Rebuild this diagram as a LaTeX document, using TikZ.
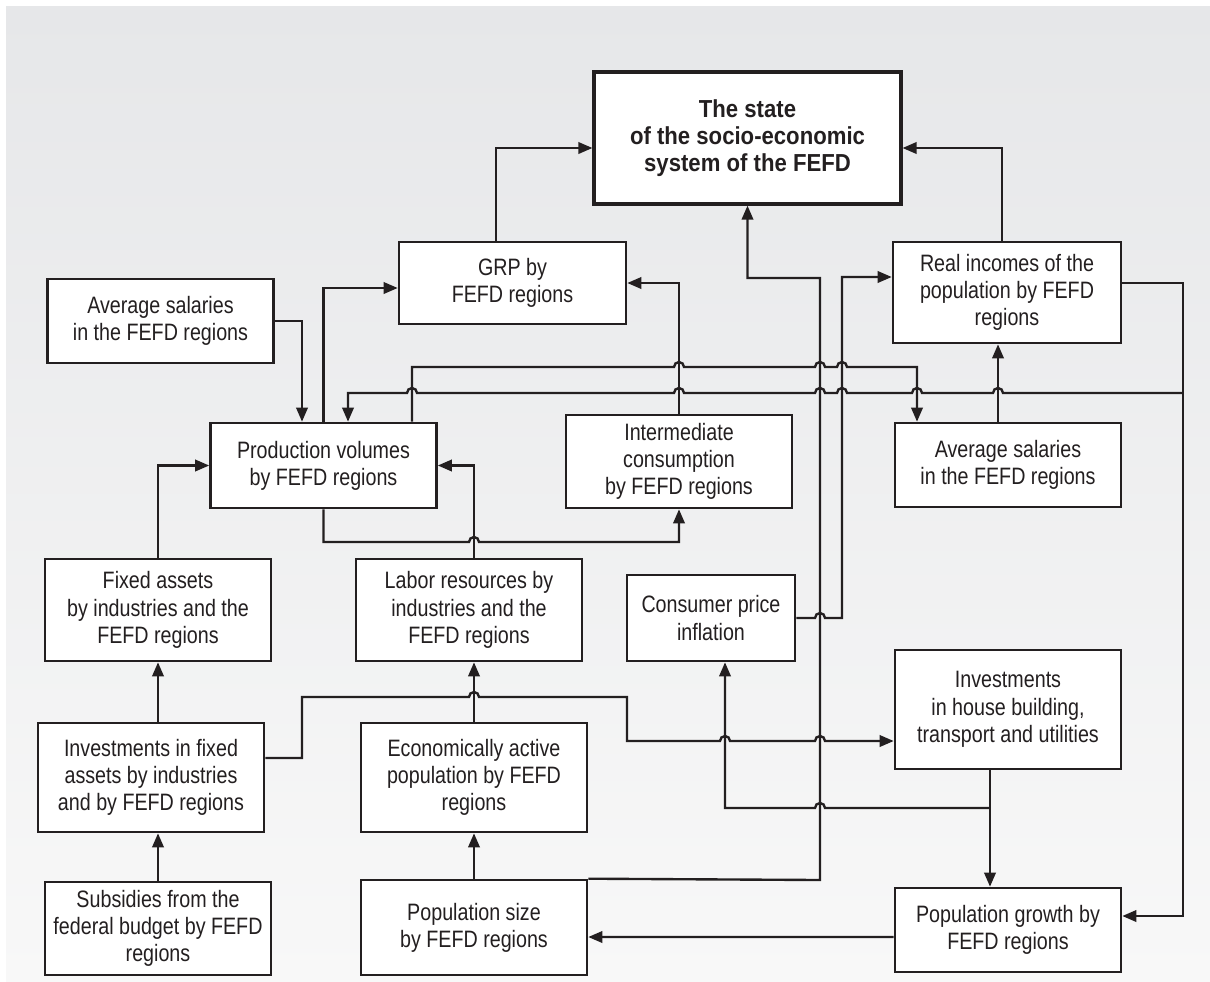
\documentclass[tikz,border=0pt]{standalone}
\usepackage{fontspec}
\setmainfont{Liberation Sans}[FakeStretch=0.83]
\newfontfamily\titlefont{Liberation Sans}[FakeStretch=0.9]
\usetikzlibrary{arrows.meta,calc}

\definecolor{bgtop}{HTML}{E6E7E9}
\definecolor{bgbot}{HTML}{F8F8F8}
\definecolor{ink}{HTML}{231F20}

% bump over a vertical line (going right / going left)
\newcommand{\hopR}[2]{-- (#1-5,#2) arc[start angle=180,end angle=0,radius=0.1cm]}
\newcommand{\hopL}[2]{-- (#1+5,#2) arc[start angle=0,end angle=180,radius=0.1cm]}

\begin{document}
\begin{tikzpicture}[x=0.02cm,y=-0.02cm,>={Triangle[length=8pt,width=6.5pt]},
  box/.style={draw=ink, fill=white, line width=1.5pt, align=center, inner sep=0pt,
    text=ink, font=\fontsize{13.5pt}{15.5pt}\selectfont, minimum width=4.52cm},
  conn/.style={draw=ink, line width=1.35pt, ->}]
\useasboundingbox (0,0) rectangle (1210,981);
\shade[top color=bgtop, bottom color=bgbot] (6,6) rectangle (1210,981);

\node[box, minimum width=6.14cm, minimum height=2.64cm, line width=1.8pt,
  font=\titlefont\bfseries\fontsize{14pt}{15.5pt}\selectfont] (state) at (747.5,138)
  {The state\\of the socio-economic\\system of the FEFD};
\node[box, minimum width=4.54cm, minimum height=1.64cm] (grp) at (512.5,283) {GRP by\\FEFD regions};
\node[box, minimum width=4.56cm, minimum height=2.02cm] (real) at (1007,292.5) {Real incomes of the\\population by FEFD\\regions};
\node[box, minimum height=1.68cm] (avgl) at (160.5,321) {Average salaries\\in the FEFD regions};
\node[box, minimum height=1.7cm] (prod) at (323.5,465.5) {Production volumes\\by FEFD regions};
\node[box, minimum height=1.86cm] (inter) at (679,461.5) {Intermediate\\consumption\\by FEFD regions};
\node[box, minimum height=1.68cm] (avgr) at (1008,465) {Average salaries\\in the FEFD regions};
\node[box, minimum height=2.04cm] (fixed) at (158,610) {Fixed assets\\by industries and the\\FEFD regions};
\node[box, minimum height=2.04cm] (labor) at (469,610) {Labor resources by\\industries and the\\FEFD regions};
\node[box, minimum width=3.36cm, minimum height=1.72cm] (cpi) at (711,618) {Consumer price\\inflation};
\node[box, minimum height=2.38cm] (invh) at (1008,709.5) {Investments\\in house building,\\transport and utilities};
\node[box, minimum height=2.18cm] (invf) at (151,777.5) {Investments in fixed\\assets by industries\\and by FEFD regions};
\node[box, minimum height=2.18cm] (econ) at (474,777.5) {Economically active\\population by FEFD\\regions};
\node[box, minimum height=1.86cm] (subs) at (158,928.5) {Subsidies from the\\federal budget by FEFD\\regions};
\node[box, minimum height=1.9cm] (popsize) at (474,927.5) {Population size\\by FEFD regions};
\node[box, minimum height=1.68cm] (popgr) at (1008,930) {Population growth by\\FEFD regions};

\coordinate (jR) at (1183,393);
\coordinate (jH) at (990,808);

% into the state box
\draw[conn] ($(grp.north)+(-16.5,0)$) |- ($(state.west)+(0,10)$);
\draw[conn] ($(real.north)+(-5,0)$) |- ($(state.east)+(0,10)$);
\draw[conn] (popsize.north east) -- (820,880) -- (820,278) -| (state.south);

\draw[conn] (cpi.east) \hopR{820}{618} -- (842,618) |- ($(real.west)+(0,-15.5)$);
\draw[conn] (prod.north) |- ($(grp.west)+(0,5)$);
\draw[conn] (avgl.east) -| ($(prod.north)+(-21.5,0)$);
\draw[conn] (inter.north) |- (grp.east);
\draw[conn] (prod.south) -- (323.5,542) \hopR{474}{542} -| (inter.south);
\draw[conn] (labor.north -| econ.north) |- (prod.east);
\draw[conn] (fixed.north) |- (prod.west);
\draw[conn] (invf.north -| fixed.north) -- (fixed.south);
\draw[conn] (subs.north) -- (subs.north |- invf.south);
\draw[conn] (econ.north) -- (econ.north |- labor.south);
\draw[conn] (popsize.north) -- (econ.south);

\draw[conn] ($(invf.east)+(0,-19.5)$) -- (302,758) -- (302,697) \hopR{474}{697}
  -- (627,697) -- (627,741) \hopR{725}{741} \hopR{820}{741} -- ($(invh.west)+(0,31.5)$);
\draw[conn] ($(invh.south)+(-18,0)$) -- ($(popgr.north)+(-18,0)$);
\draw[conn] (jH) \hopL{820}{808} -- (725,808) -- ($(cpi.south)+(14,0)$);
\draw[conn] ($(popgr.west)+(0,7)$) -- ($(popsize.east)+(0,9.5)$);

\draw[conn] ($(real.east)+(0,-9.5)$) -- (1183,283) |- ($(popgr.east)+(0,-14)$);
\draw[conn] (jR) \hopL{998}{393} \hopL{917}{393} \hopL{842}{393} \hopL{820}{393}
  \hopL{679}{393} \hopL{412}{393} -- (348,393) -- ($(prod.north)+(24.5,0)$);
\draw[conn] ($(prod.north)+(88.5,0)$) -- (412,367) \hopR{679}{367} \hopR{820}{367}
  \hopR{842}{367} -| ($(avgr.north)+(-91,0)$);
\draw[conn] ($(avgr.north)+(-10,0)$) -- ($(real.south)+(-9,0)$);
\end{tikzpicture}
\end{document}
